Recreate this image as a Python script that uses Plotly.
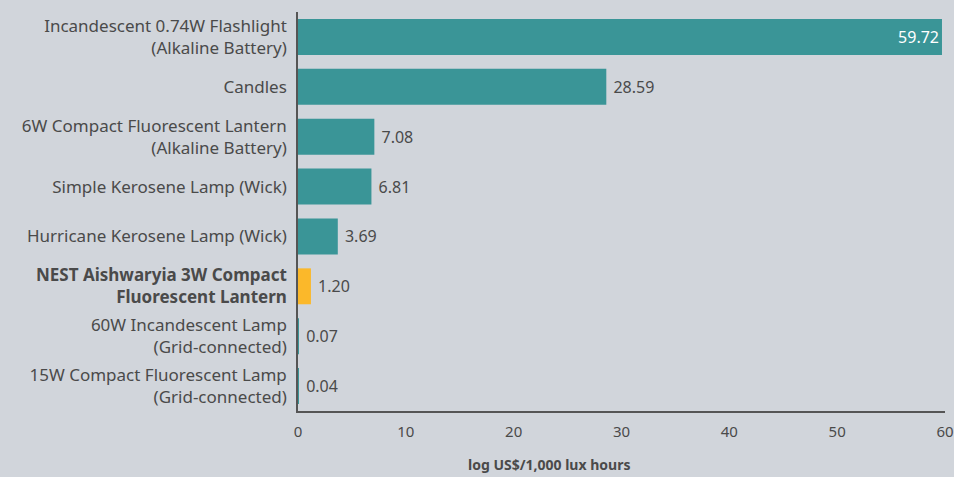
import plotly.graph_objects as go

categories = [
    "Incandescent 0.74W Flashlight<br>(Alkaline Battery)",
    "Candles",
    "6W Compact Fluorescent Lantern<br>(Alkaline Battery)",
    "Simple Kerosene Lamp (Wick)",
    "Hurricane Kerosene Lamp (Wick)",
    "<b>NEST Aishwaryia 3W Compact<br>Fluorescent Lantern</b>",
    "60W Incandescent Lamp<br>(Grid-connected)",
    "15W Compact Fluorescent Lamp<br>(Grid-connected)",
]
values = [59.72, 28.59, 7.08, 6.81, 3.69, 1.20, 0.07, 0.04]
labels = ["59.72", "28.59", "7.08", "6.81", "3.69", "1.20", "0.07", "0.04"]
x_ticks = [0, 10, 20, 30, 40, 50, 60]
x_title = "log US$/1,000 lux hours"

TEAL = "#3a9597"
ORANGE = "#fbb82a"
FONT = "Noto Sans"
TXT = "#4a4a4a"
colors = [ORANGE if "NEST" in c else TEAL for c in categories]
positions = ["inside"] + ["outside"] * (len(values) - 1)
text_colors = ["white"] + [TXT] * (len(values) - 1)
bar_text = [lab if pos == "inside" else " " + lab for lab, pos in zip(labels, positions)]

fig = go.Figure(go.Bar(
    x=values, y=categories, orientation="h",
    marker=dict(color=colors, line=dict(width=0)),
    width=0.72,
    text=bar_text, textposition=positions,
    insidetextanchor="end", constraintext="none",
    textfont=dict(size=16, color=text_colors, family=FONT),
    cliponaxis=False,
))

fig.update_layout(
    width=954, height=477,
    margin=dict(l=298, r=9, t=12, b=66, autoexpand=False),
    paper_bgcolor="#d1d5db", plot_bgcolor="#d1d5db",
    font=dict(family=FONT, size=17, color=TXT),
    showlegend=False,
    annotations=[dict(
        text="<b>" + x_title + "</b>", xref="paper", yref="paper",
        x=0.388, y=-0.135, xanchor="center", yanchor="middle",
        showarrow=False, font=dict(size=14, color=TXT, family=FONT),
    )],
)
fig.update_yaxes(
    autorange="reversed", showgrid=False, showline=True, automargin=False,
    linecolor="#555555", linewidth=1.5, ticks="", ticklabelstandoff=6,
    tickfont=dict(size=17, color=TXT), zeroline=False,
)
fig.update_xaxes(
    range=[0, 60], tickvals=x_ticks, showgrid=False, showline=True, automargin=False,
    linecolor="#555555", linewidth=1.5, ticks="", zeroline=False,
    tickfont=dict(size=15, color=TXT), ticklabelstandoff=6,
)

fig.write_html(
    "out.html",
    config={"displayModeBar": False},
    post_script="document.body.style.margin='0';document.body.style.background='#d1d5db';",
)
